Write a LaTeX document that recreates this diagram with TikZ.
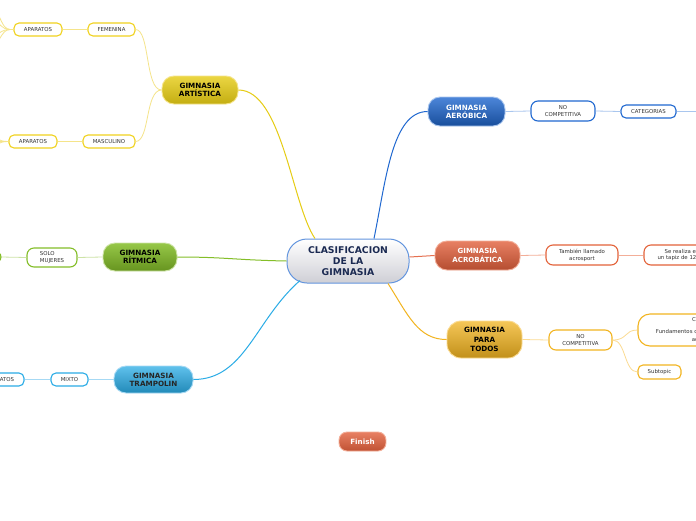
\documentclass[tikz,border=0pt]{standalone}
\usepackage{fontspec}
\setmainfont{DejaVu Sans}
\definecolor{yel}{HTML}{E6CC14}
\definecolor{yelL}{HTML}{F5E48A}
\definecolor{yelB}{HTML}{F0D21E}
\definecolor{grn}{HTML}{84BE28}
\definecolor{grnL}{HTML}{CDE3A6}
\definecolor{blu}{HTML}{2068D0}
\definecolor{bluL}{HTML}{A9C6EE}
\definecolor{red}{HTML}{E2603C}
\definecolor{redL}{HTML}{F3AE98}
\definecolor{org}{HTML}{F2B420}
\definecolor{orgL}{HTML}{FBDB92}
\definecolor{cya}{HTML}{2AACE6}
\definecolor{cyaL}{HTML}{A6D9F4}
\definecolor{navy}{HTML}{1B2A52}
\definecolor{txt}{HTML}{333333}
\tikzset{
  topic/.style={rounded corners=12pt, inner sep=0pt, align=center, line width=0.9pt,
    font=\bfseries\fontsize{7.2}{8.2}\selectfont},
  sub/.style={rounded corners=5pt, inner sep=0pt, align=center, fill=white, line width=1.1pt,
    text=txt, font=\fontsize{5.4}{6.8}\selectfont},
  mainline/.style={line width=1pt},
  subline/.style={line width=0.8pt},
}
\begin{document}
\begin{tikzpicture}[x=1pt,y=-1pt]
\useasboundingbox (0,0) rectangle (696,520);
\fill[white] (0,0) rectangle (696,520);
\clip (0,0) rectangle (696,520);

% central
\node[topic, rounded corners=20pt, minimum width=122pt, minimum height=44pt,
  top color=white, bottom color=black!5!blue!8!gray!35, draw=blu!70!white, line width=1pt,
  text=navy, font=\bfseries\fontsize{9.3}{11}\selectfont] (cen) at (348,261) {CLASIFICACION\\DE LA\\GIMNASIA};

% main topics
\node[topic, minimum width=76pt, minimum height=28pt, top color=yel!80!white, bottom color=yel!85!black, draw=yelL, text=black] (art) at (200,90) {GIMNASIA\\ARTÍSTICA};
\node[topic, minimum width=74pt, minimum height=28pt, top color=grn!85!white, bottom color=grn!78!black, draw=grnL, text=black] (rit) at (140,257) {GIMNASIA\\RÍTMICA};
\node[topic, minimum width=79pt, minimum height=27pt, top color=cya!75!white, bottom color=cya!80!black, draw=cyaL, text=black!85] (tra) at (153.5,379.5) {GIMNASIA\\TRAMPOLIN};
\node[topic, minimum width=77pt, minimum height=29pt, top color=blu!80!white, bottom color=blu!75!black, draw=bluL, text=white] (aer) at (466.5,111.5) {GIMNASIA\\AERÓBICA};
\node[topic, minimum width=85pt, minimum height=29pt, top color=red!80!white, bottom color=red!80!black, draw=redL, text=white, font=\bfseries\fontsize{7}{8.2}\selectfont] (acr) at (477.5,255.5) {GIMNASIA\\ACROBÁTICA};
\node[topic, rounded corners=14pt, minimum width=75pt, minimum height=37pt, top color=org!75!white, bottom color=org!80!black, draw=orgL, text=black,
  font=\bfseries\fontsize{7.2}{9.5}\selectfont] (par) at (484.5,339.5) {GIMNASIA\\PARA\\TODOS};
\node[topic, rounded corners=8pt, minimum width=47pt, minimum height=19pt, top color=red!80!white, bottom color=red!85!black, draw=redL, text=white] (fin) at (362.5,441.5) {Finish};

% sub topics
\node[sub, draw=yelB, minimum width=47pt, minimum height=13pt] (fem) at (111.5,29.5) {FEMENINA};
\node[sub, draw=yelB, minimum width=48pt, minimum height=13pt] (apt) at (38,29.5) {APARATOS};
\node[sub, draw=yelB, minimum width=52pt, minimum height=13pt] (mas) at (109,141.5) {MASCULINO};
\node[sub, draw=yelB, minimum width=48pt, minimum height=13pt] (apb) at (33,141.5) {APARATOS};
\node[sub, draw=grn, rounded corners=7pt, minimum width=50pt, minimum height=19pt, align=left] (sol) at (52,257.5) {SOLO\\MUJERES};
\node[sub, draw=grn, rounded corners=7pt, minimum width=40pt, minimum height=13pt] (rle) at (-19,257) {};
\node[sub, draw=cya, minimum width=37pt, minimum height=13pt] (mix) at (69.5,379.5) {MIXTO};
\node[sub, draw=cya, minimum width=48pt, minimum height=13pt] (apr) at (0,379.5) {APARATOS};
\node[sub, draw=blu, rounded corners=7pt, minimum width=64pt, minimum height=20pt] (nca) at (563,111) {NO\\COMPETITIVA};
\node[sub, draw=blu, minimum width=55pt, minimum height=13pt] (cat) at (648.5,111.5) {CATEGORIAS};
\node[sub, draw=red!95!orange, rounded corners=7pt, minimum width=72pt, minimum height=20pt] (tam) at (582,255) {También llamado\\acrosport};
\node[sub, draw=red!95!orange, rounded corners=7pt, minimum width=76pt, minimum height=20pt] (ser) at (682,255) {Se realiza en\\un tapiz de 12x12};
\node[sub, draw=org, rounded corners=7pt, minimum width=63pt, minimum height=20pt] (ncp) at (580.5,340) {NO\\COMPETITIVA};
\node[sub, draw=org, rounded corners=12pt, minimum width=136pt, minimum height=32pt,
  font=\fontsize{5.4}{7.6}\selectfont] (big) at (706,330) {Contenido\\[4pt]Fundamentos de la gimnasia general\\adaptados};
\node[sub, draw=org, minimum width=43pt, minimum height=14pt] (stp) at (659.5,372) {Subtopic};

% main connectors
\draw[mainline, yel] (art.east) .. controls (282,90) and (292,205) .. ([xshift=-33pt]cen.north);
\draw[mainline, blu] ([xshift=26pt]cen.north) .. controls (386,180) and (392,111.5) .. (aer.west);
\draw[mainline, red!90!white] (cen.east |- acr.west) ++(0,1.5) -- (acr.west);
\draw[mainline, org] ([xshift=40pt]cen.south) .. controls (408,315) and (418,339.5) .. (par.west);
\draw[mainline, grn] (cen.west) .. controls (235,260) and (225,257) .. (rit.east);
\draw[mainline, cya] ([xshift=-48pt,yshift=3pt]cen.south) .. controls (255,320) and (245,379.5) .. (tra.east);

% sub connectors
\draw[subline, yelL] (art.west) .. controls (145,90) and (150,29.5) .. (fem.east);
\draw[subline, yelL] (art.west) .. controls (145,90) and (150,141.5) .. (mas.east);
\draw[subline, yelL] (fem.west) -- (apt.east);
\draw[subline, yelL] (mas.west) -- (apb.east);
\coordinate (o1) at (-20,-30);
\coordinate (o2) at (-20,5);
\coordinate (o3) at (-20,45);
\coordinate (o4) at (-20,75);
\foreach \c in {o1,o2,o3,o4}{\draw[subline, yelL] (apt.west) .. controls (2,29.5) and (5,29.5) .. (\c);}
\coordinate (p1) at (-20,128);
\coordinate (p2) at (-20,141.5);
\coordinate (p3) at (-20,155);
\foreach \c in {p1,p2,p3}{\draw[subline, yelL] (apb.west) .. controls (2,141.5) and (0,141.5) .. (\c);}
\draw[subline, grnL] (rit.west) -- (sol.east);
\draw[subline, grnL] (sol.west) -- (rle.east);
\draw[subline, cyaL] (tra.west) -- (mix.east);
\draw[subline, cyaL] (mix.west) -- (apr.east);
\coordinate (cr) at (700,111.5);
\draw[subline, bluL] (aer.east) -- (nca.west);
\draw[subline, bluL] (nca.east) -- (cat.west);
\draw[subline, bluL] (cat.east) -- (cr);
\draw[subline, redL] (acr.east) -- (tam.west);
\draw[subline, redL] (tam.east) -- (ser.west);
\draw[subline, orgL] (par.east) -- (ncp.west);
\draw[subline, orgL] (ncp.east) .. controls (628,340) and (624,330) .. (big.west);
\draw[subline, orgL] (ncp.east) .. controls (626,340) and (624,372) .. (stp.west);
\end{tikzpicture}
\end{document}
